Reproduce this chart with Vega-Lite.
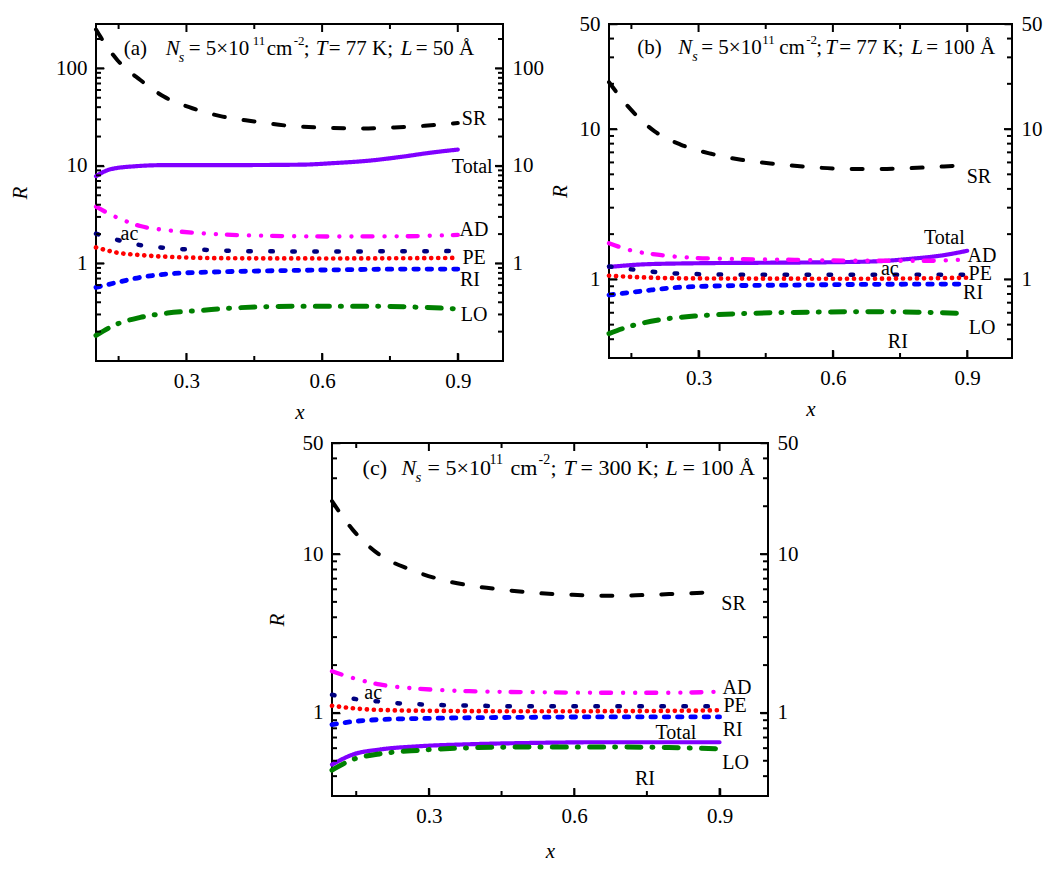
{
"$schema": "https://vega.github.io/schema/vega-lite/v6.json",
"padding": {"left": 8, "top": 12, "right": 5, "bottom": 5},
"config": {
  "font": "Liberation Serif",
  "view": {"stroke": "black", "strokeWidth": 2, "fill": "transparent"},
  "axis": {"labelFont": "Liberation Serif", "labelFontSize": 21, "labelColor": "black", "titleFont": "Liberation Serif", "titleFontSize": 21, "titleFontStyle": "italic", "titleFontWeight": "normal", "titleColor": "black", "domain": false, "grid": false, "ticks": true, "tickColor": "#000000", "tickWidth": 1.5, "tickSize": 8, "offset": -8, "labelPadding": 9},
  "text": {"font": "Liberation Serif", "fontSize": 21, "color": "black", "align": "left", "baseline": "alphabetic"},
  "line": {"strokeCap": "round", "interpolate": "monotone", "clip": true},
  "rule": {"color": "black", "strokeWidth": 2, "opacity": 1}
},
"datasets": {
  "a": [
    {"s":"SR","x":0.1,"R":250},{"s":"SR","x":0.11,"R":210},{"s":"SR","x":0.147,"R":122},{"s":"SR","x":0.198,"R":76},{"s":"SR","x":0.25,"R":51.4},{"s":"SR","x":0.313,"R":39},{"s":"SR","x":0.38,"R":32},{"s":"SR","x":0.45,"R":28.6},{"s":"SR","x":0.525,"R":25.8},{"s":"SR","x":0.59,"R":24.8},{"s":"SR","x":0.687,"R":24.2},{"s":"SR","x":0.76,"R":24.8},{"s":"SR","x":0.827,"R":25.8},{"s":"SR","x":0.9,"R":27.5},
    {"s":"Total","x":0.1,"R":7.85},{"s":"Total","x":0.13,"R":9.18},{"s":"Total","x":0.184,"R":9.9},{"s":"Total","x":0.258,"R":10.2},{"s":"Total","x":0.406,"R":10.2},{"s":"Total","x":0.554,"R":10.3},{"s":"Total","x":0.628,"R":10.7},{"s":"Total","x":0.702,"R":11.3},{"s":"Total","x":0.776,"R":12.4},{"s":"Total","x":0.842,"R":13.7},{"s":"Total","x":0.9,"R":14.7},
    {"s":"AD","x":0.1,"R":3.82},{"s":"AD","x":0.147,"R":2.95},{"s":"AD","x":0.198,"R":2.42},{"s":"AD","x":0.258,"R":2.19},{"s":"AD","x":0.332,"R":2.04},{"s":"AD","x":0.48,"R":1.92},{"s":"AD","x":0.628,"R":1.89},{"s":"AD","x":0.776,"R":1.9},{"s":"AD","x":0.9,"R":1.96},
    {"s":"ac","x":0.1,"R":2.02},{"s":"ac","x":0.148,"R":1.74},{"s":"ac","x":0.195,"R":1.55},{"s":"ac","x":0.243,"R":1.46},{"s":"ac","x":0.291,"R":1.4},{"s":"ac","x":0.339,"R":1.38},{"s":"ac","x":0.387,"R":1.35},{"s":"ac","x":0.5,"R":1.33},{"s":"ac","x":0.7,"R":1.33},{"s":"ac","x":0.9,"R":1.34},
    {"s":"PE","x":0.1,"R":1.46},{"s":"PE","x":0.147,"R":1.29},{"s":"PE","x":0.198,"R":1.22},{"s":"PE","x":0.258,"R":1.17},{"s":"PE","x":0.406,"R":1.13},{"s":"PE","x":0.628,"R":1.125},{"s":"PE","x":0.9,"R":1.14},
    {"s":"RI","x":0.1,"R":0.569},{"s":"RI","x":0.147,"R":0.64},{"s":"RI","x":0.198,"R":0.72},{"s":"RI","x":0.258,"R":0.78},{"s":"RI","x":0.369,"R":0.82},{"s":"RI","x":0.48,"R":0.84},{"s":"RI","x":0.628,"R":0.86},{"s":"RI","x":0.776,"R":0.875},{"s":"RI","x":0.9,"R":0.875},
    {"s":"LO","x":0.1,"R":0.183},{"s":"LO","x":0.147,"R":0.24},{"s":"LO","x":0.198,"R":0.28},{"s":"LO","x":0.258,"R":0.31},{"s":"LO","x":0.332,"R":0.33},{"s":"LO","x":0.406,"R":0.35},{"s":"LO","x":0.554,"R":0.364},{"s":"LO","x":0.702,"R":0.364},{"s":"LO","x":0.813,"R":0.356},{"s":"LO","x":0.9,"R":0.342}
  ],
  "b": [
    {"s":"SR","x":0.1,"R":20.5},{"s":"SR","x":0.142,"R":14.2},{"s":"SR","x":0.202,"R":9.65},{"s":"SR","x":0.261,"R":7.86},{"s":"SR","x":0.328,"R":6.85},{"s":"SR","x":0.395,"R":6.25},{"s":"SR","x":0.469,"R":5.87},{"s":"SR","x":0.551,"R":5.58},{"s":"SR","x":0.625,"R":5.44},{"s":"SR","x":0.699,"R":5.42},{"s":"SR","x":0.773,"R":5.5},{"s":"SR","x":0.848,"R":5.64},{"s":"SR","x":0.9,"R":5.78},
    {"s":"Total","x":0.1,"R":1.21},{"s":"Total","x":0.179,"R":1.26},{"s":"Total","x":0.29,"R":1.28},{"s":"Total","x":0.439,"R":1.29},{"s":"Total","x":0.588,"R":1.3},{"s":"Total","x":0.7,"R":1.32},{"s":"Total","x":0.773,"R":1.37},{"s":"Total","x":0.848,"R":1.45},{"s":"Total","x":0.9,"R":1.55},
    {"s":"AD","x":0.1,"R":1.74},{"s":"AD","x":0.142,"R":1.58},{"s":"AD","x":0.217,"R":1.45},{"s":"AD","x":0.291,"R":1.39},{"s":"AD","x":0.365,"R":1.37},{"s":"AD","x":0.514,"R":1.35},{"s":"AD","x":0.662,"R":1.33},{"s":"AD","x":0.81,"R":1.33},{"s":"AD","x":0.9,"R":1.36},
    {"s":"ac","x":0.1,"R":1.22},{"s":"ac","x":0.15,"R":1.166},{"s":"ac","x":0.198,"R":1.125},{"s":"ac","x":0.246,"R":1.096},{"s":"ac","x":0.295,"R":1.085},{"s":"ac","x":0.4,"R":1.074},{"s":"ac","x":0.9,"R":1.074},
    {"s":"PE","x":0.1,"R":1.058},{"s":"PE","x":0.179,"R":1.03},{"s":"PE","x":0.29,"R":1.015},{"s":"PE","x":0.662,"R":1.01},{"s":"PE","x":0.9,"R":1.026},
    {"s":"RI","x":0.1,"R":0.787},{"s":"RI","x":0.179,"R":0.84},{"s":"RI","x":0.254,"R":0.885},{"s":"RI","x":0.365,"R":0.907},{"s":"RI","x":0.514,"R":0.917},{"s":"RI","x":0.662,"R":0.926},{"s":"RI","x":0.9,"R":0.931},
    {"s":"LO","x":0.1,"R":0.436},{"s":"LO","x":0.142,"R":0.483},{"s":"LO","x":0.217,"R":0.541},{"s":"LO","x":0.291,"R":0.57},{"s":"LO","x":0.402,"R":0.593},{"s":"LO","x":0.55,"R":0.605},{"s":"LO","x":0.7,"R":0.61},{"s":"LO","x":0.81,"R":0.603},{"s":"LO","x":0.9,"R":0.593}
  ],
  "c": [
    {"s":"SR","x":0.1,"R":21.5},{"s":"SR","x":0.143,"R":14.2},{"s":"SR","x":0.198,"R":9.9},{"s":"SR","x":0.259,"R":8.05},{"s":"SR","x":0.321,"R":6.96},{"s":"SR","x":0.383,"R":6.35},{"s":"SR","x":0.452,"R":5.97},{"s":"SR","x":0.52,"R":5.69},{"s":"SR","x":0.589,"R":5.55},{"s":"SR","x":0.658,"R":5.47},{"s":"SR","x":0.727,"R":5.5},{"s":"SR","x":0.796,"R":5.6},{"s":"SR","x":0.864,"R":5.71},{"s":"SR","x":0.9,"R":5.82},
    {"s":"Total","x":0.1,"R":0.473},{"s":"Total","x":0.143,"R":0.547},{"s":"Total","x":0.198,"R":0.588},{"s":"Total","x":0.28,"R":0.617},{"s":"Total","x":0.383,"R":0.635},{"s":"Total","x":0.52,"R":0.648},{"s":"Total","x":0.658,"R":0.654},{"s":"Total","x":0.9,"R":0.654},
    {"s":"AD","x":0.1,"R":1.83},{"s":"AD","x":0.143,"R":1.66},{"s":"AD","x":0.198,"R":1.51},{"s":"AD","x":0.28,"R":1.42},{"s":"AD","x":0.383,"R":1.37},{"s":"AD","x":0.52,"R":1.35},{"s":"AD","x":0.658,"R":1.34},{"s":"AD","x":0.796,"R":1.34},{"s":"AD","x":0.9,"R":1.36},
    {"s":"ac","x":0.1,"R":1.3},{"s":"ac","x":0.151,"R":1.22},{"s":"ac","x":0.198,"R":1.18},{"s":"ac","x":0.246,"R":1.145},{"s":"ac","x":0.292,"R":1.13},{"s":"ac","x":0.342,"R":1.117},{"s":"ac","x":0.4,"R":1.11},{"s":"ac","x":0.5,"R":1.1},{"s":"ac","x":0.9,"R":1.1},
    {"s":"PE","x":0.1,"R":1.11},{"s":"PE","x":0.143,"R":1.07},{"s":"PE","x":0.198,"R":1.044},{"s":"PE","x":0.315,"R":1.03},{"s":"PE","x":0.52,"R":1.024},{"s":"PE","x":0.796,"R":1.03},{"s":"PE","x":0.9,"R":1.04},
    {"s":"RI","x":0.1,"R":0.845},{"s":"RI","x":0.143,"R":0.882},{"s":"RI","x":0.198,"R":0.908},{"s":"RI","x":0.315,"R":0.926},{"s":"RI","x":0.52,"R":0.939},{"s":"RI","x":0.658,"R":0.944},{"s":"RI","x":0.9,"R":0.944},
    {"s":"LO","x":0.1,"R":0.436},{"s":"LO","x":0.143,"R":0.509},{"s":"LO","x":0.198,"R":0.552},{"s":"LO","x":0.28,"R":0.582},{"s":"LO","x":0.383,"R":0.603},{"s":"LO","x":0.52,"R":0.611},{"s":"LO","x":0.658,"R":0.611},{"s":"LO","x":0.796,"R":0.605},{"s":"LO","x":0.9,"R":0.594}
  ],
  "labA": [
    {"label":"SR","x":0.936,"R":30.4},{"label":"Total","x":0.932,"R":9.84},{"label":"AD","x":0.936,"R":2.19},{"label":"ac","x":0.174,"R":1.99},{"label":"PE","x":0.936,"R":1.13},{"label":"RI","x":0.927,"R":0.676},{"label":"LO","x":0.936,"R":0.297}
  ],
  "labB": [
    {"label":"SR","x":0.926,"R":4.83},{"label":"Total","x":0.849,"R":1.88},{"label":"AD","x":0.933,"R":1.43},{"label":"ac","x":0.727,"R":1.18},{"label":"PE","x":0.929,"R":1.085},{"label":"RI","x":0.913,"R":0.81},{"label":"LO","x":0.933,"R":0.476},{"label":"RI","x":0.745,"R":0.384}
  ],
  "labC": [
    {"label":"SR","x":0.929,"R":4.85},{"label":"AD","x":0.936,"R":1.44},{"label":"ac","x":0.185,"R":1.34},{"label":"PE","x":0.932,"R":1.1},{"label":"Total","x":0.81,"R":0.748},{"label":"RI","x":0.927,"R":0.778},{"label":"LO","x":0.933,"R":0.485},{"label":"RI","x":0.746,"R":0.385}
  ],
  "titA": [{"x":0.1613,"R":137}],
  "titB": [{"x":0.163,"R":31.8}],
  "titC": [{"x":0.1631,"R":31.5}],
  "xt": [{"v":0.3,"k":"M"},{"v":0.6,"k":"M"},{"v":0.9,"k":"M"},{"v":0.15,"k":"m"},{"v":0.45,"k":"m"},{"v":0.75,"k":"m"}],
  "ytA": [{"v":1,"k":"M"},{"v":10,"k":"M"},{"v":100,"k":"M"},
    {"v":0.2,"k":"m"},{"v":0.3,"k":"m"},{"v":0.4,"k":"m"},{"v":0.5,"k":"m"},{"v":0.6,"k":"m"},{"v":0.7,"k":"m"},{"v":0.8,"k":"m"},{"v":0.9,"k":"m"},
    {"v":2,"k":"m"},{"v":3,"k":"m"},{"v":4,"k":"m"},{"v":5,"k":"m"},{"v":6,"k":"m"},{"v":7,"k":"m"},{"v":8,"k":"m"},{"v":9,"k":"m"},
    {"v":20,"k":"m"},{"v":30,"k":"m"},{"v":40,"k":"m"},{"v":50,"k":"m"},{"v":60,"k":"m"},{"v":70,"k":"m"},{"v":80,"k":"m"},{"v":90,"k":"m"},{"v":200,"k":"m"}],
  "ytB": [{"v":1,"k":"M"},{"v":10,"k":"M"},
    {"v":0.4,"k":"m"},{"v":0.5,"k":"m"},{"v":0.6,"k":"m"},{"v":0.7,"k":"m"},{"v":0.8,"k":"m"},{"v":0.9,"k":"m"},
    {"v":2,"k":"m"},{"v":3,"k":"m"},{"v":4,"k":"m"},{"v":5,"k":"m"},{"v":6,"k":"m"},{"v":7,"k":"m"},{"v":8,"k":"m"},{"v":9,"k":"m"},
    {"v":20,"k":"m"},{"v":30,"k":"m"},{"v":40,"k":"m"}]
},
"center": true,
"spacing": 8,
"vconcat": [
 {"hconcat": [
  {"width": 407, "height": 337,
   "resolve": {"axis": {"x": "independent", "y": "independent"}},
   "layer": [
    {"data": {"name": "a"}, "transform": [{"filter": "datum.s != 'ac' && datum.s != 'PE'"}],
     "mark": {"type": "line"},
     "encoding": {
      "x": {"field": "x", "type": "quantitative", "scale": {"domain": [0.1, 1.0], "nice": false, "zero": false}, "axis": {"orient": "bottom", "values": [0.3, 0.6, 0.9], "format": ".1f", "title": "x", "titlePadding": 10}},
      "y": {"field": "R", "type": "quantitative", "scale": {"type": "log", "domain": [0.1, 285], "nice": false}, "axis": {"orient": "left", "values": [1, 10, 100], "format": "d", "title": "R", "titlePadding": 25}},
      "color": {"field": "s", "type": "nominal", "scale": {"domain": ["SR","Total","AD","ac","PE","RI","LO"], "range": ["#000000","#8000ff","#ff00ff","#000080","#ff0000","#0000ff","#008000"]}, "legend": null},
      "strokeDash": {"field": "s", "type": "nominal", "scale": {"domain": ["SR","Total","AD","ac","PE","RI","LO"], "range": [[11,19],[1,0],[10,12,0.1,12,0.1,11],[2.5,19.5],[0.1,6.9],[4.5,8.8],[14,11,1,11.3]]}, "legend": null},
      "strokeWidth": {"field": "s", "type": "ordinal", "scale": {"domain": ["SR","Total","AD","ac","PE","RI","LO"], "range": [4,5,4,3.5,3.5,3.5,4]}, "legend": null}
     }},
    {"data": {"name": "a"}, "transform": [{"filter": "datum.s == 'ac' || datum.s == 'PE'"}],
     "mark": {"type": "line"},
     "encoding": {
      "x": {"field": "x", "type": "quantitative", "axis": null},
      "y": {"field": "R", "type": "quantitative", "axis": {"orient": "right", "values": [1, 10, 100], "format": "d", "title": null}},
      "color": {"field": "s", "type": "nominal", "legend": null},
      "strokeDash": {"field": "s", "type": "nominal", "legend": null},
      "strokeWidth": {"field": "s", "type": "ordinal", "legend": null}
     }},
    {"data": {"name": "labA"}, "mark": {"type": "text", "align": "center", "baseline": "middle", "fontSize": 20},
     "encoding": {
      "x": {"field": "x", "type": "quantitative", "axis": null},
      "y": {"field": "R", "type": "quantitative", "axis": null},
      "text": {"field": "label"}
     }},
    {"data": {"name": "ytA"},
     "layer": [
      {"transform": [{"filter": "datum.k == 'M'"}], "mark": {"type": "rule", "x2Offset": 8}, "encoding": {"x": {"datum": 0.1, "type": "quantitative", "axis": null}, "x2": {"datum": 0.1}, "y": {"field": "v", "type": "quantitative", "axis": null}}},
      {"transform": [{"filter": "datum.k == 'm'"}], "mark": {"type": "rule", "x2Offset": 5}, "encoding": {"x": {"datum": 0.1, "type": "quantitative", "axis": null}, "x2": {"datum": 0.1}, "y": {"field": "v", "type": "quantitative", "axis": null}}},
      {"transform": [{"filter": "datum.k == 'M'"}], "mark": {"type": "rule", "x2Offset": -8}, "encoding": {"x": {"datum": 1.0, "type": "quantitative", "axis": null}, "x2": {"datum": 1.0}, "y": {"field": "v", "type": "quantitative", "axis": null}}},
      {"transform": [{"filter": "datum.k == 'm'"}], "mark": {"type": "rule", "x2Offset": -5}, "encoding": {"x": {"datum": 1.0, "type": "quantitative", "axis": null}, "x2": {"datum": 1.0}, "y": {"field": "v", "type": "quantitative", "axis": null}}}
     ]},
    {"data": {"name": "xt"},
     "layer": [
      {"transform": [{"filter": "datum.k == 'M'"}], "mark": {"type": "rule", "y2Offset": -8}, "encoding": {"x": {"field": "v", "type": "quantitative", "axis": null}, "y": {"datum": 0.1, "type": "quantitative", "axis": null}, "y2": {"datum": 0.1}}},
      {"transform": [{"filter": "datum.k == 'm'"}], "mark": {"type": "rule", "y2Offset": -5}, "encoding": {"x": {"field": "v", "type": "quantitative", "axis": null}, "y": {"datum": 0.1, "type": "quantitative", "axis": null}, "y2": {"datum": 0.1}}},
      {"transform": [{"filter": "datum.k == 'M'"}], "mark": {"type": "rule", "y2Offset": 8}, "encoding": {"x": {"field": "v", "type": "quantitative", "axis": null}, "y": {"datum": 285, "type": "quantitative", "axis": null}, "y2": {"datum": 285}}},
      {"transform": [{"filter": "datum.k == 'm'"}], "mark": {"type": "rule", "y2Offset": 5}, "encoding": {"x": {"field": "v", "type": "quantitative", "axis": null}, "y": {"datum": 285, "type": "quantitative", "axis": null}, "y2": {"datum": 285}}}
     ]},
    {"data": {"name": "titA"},
     "encoding": {
      "x": {"field": "x", "type": "quantitative", "axis": null},
      "y": {"field": "R", "type": "quantitative", "axis": null}
     },
     "layer": [
      {"mark": {"type": "text", "text": "(a)"}},
      {"mark": {"type": "text", "text": "N", "fontStyle": "italic", "dx": 42}},
      {"mark": {"type": "text", "text": "s", "fontStyle": "italic", "fontSize": 14, "dx": 55, "dy": 7}},
      {"mark": {"type": "text", "text": "= 5×10", "dx": 65}},
      {"mark": {"type": "text", "text": "11", "fontSize": 13, "dx": 129, "dy": -10}},
      {"mark": {"type": "text", "text": "cm", "dx": 143}},
      {"mark": {"type": "text", "text": "-2", "fontSize": 13, "dx": 170, "dy": -10}},
      {"mark": {"type": "text", "text": ";", "dx": 180}},
      {"mark": {"type": "text", "text": "T", "fontStyle": "italic", "dx": 192}},
      {"mark": {"type": "text", "text": "= 77 K;", "dx": 205}},
      {"mark": {"type": "text", "text": "L", "fontStyle": "italic", "dx": 277}},
      {"mark": {"type": "text", "text": "= 50 Å", "dx": 292}}
     ]}
   ]},
  {"width": 403, "height": 334,
   "resolve": {"axis": {"x": "independent", "y": "independent"}},
   "layer": [
    {"data": {"name": "b"}, "transform": [{"filter": "datum.s != 'ac' && datum.s != 'PE'"}],
     "mark": {"type": "line"},
     "encoding": {
      "x": {"field": "x", "type": "quantitative", "scale": {"domain": [0.1, 1.0], "nice": false, "zero": false}, "axis": {"orient": "bottom", "values": [0.3, 0.6, 0.9], "format": ".1f", "title": "x", "titlePadding": 10}},
      "y": {"field": "R", "type": "quantitative", "scale": {"type": "log", "domain": [0.3, 50], "nice": false}, "axis": {"orient": "left", "values": [1, 10, 50], "format": "d", "title": "R", "titlePadding": 9}},
      "color": {"field": "s", "type": "nominal", "scale": {"domain": ["SR","Total","AD","ac","PE","RI","LO"], "range": ["#000000","#8000ff","#ff00ff","#000080","#ff0000","#0000ff","#008000"]}, "legend": null},
      "strokeDash": {"field": "s", "type": "nominal", "scale": {"domain": ["SR","Total","AD","ac","PE","RI","LO"], "range": [[11,19],[1,0],[10,12,0.1,12,0.1,11],[2.5,19.5],[0.1,6.9],[4.5,8.8],[14,11,1,11.3]]}, "legend": null},
      "strokeWidth": {"field": "s", "type": "ordinal", "scale": {"domain": ["SR","Total","AD","ac","PE","RI","LO"], "range": [4,5,4,3.5,3.5,3.5,4]}, "legend": null}
     }},
    {"data": {"name": "b"}, "transform": [{"filter": "datum.s == 'ac' || datum.s == 'PE'"}],
     "mark": {"type": "line"},
     "encoding": {
      "x": {"field": "x", "type": "quantitative", "axis": null},
      "y": {"field": "R", "type": "quantitative", "axis": {"orient": "right", "values": [1, 10, 50], "format": "d", "title": null}},
      "color": {"field": "s", "type": "nominal", "legend": null},
      "strokeDash": {"field": "s", "type": "nominal", "legend": null},
      "strokeWidth": {"field": "s", "type": "ordinal", "legend": null}
     }},
    {"data": {"name": "labB"}, "mark": {"type": "text", "align": "center", "baseline": "middle", "fontSize": 20},
     "encoding": {
      "x": {"field": "x", "type": "quantitative", "axis": null},
      "y": {"field": "R", "type": "quantitative", "axis": null},
      "text": {"field": "label"}
     }},
    {"data": {"name": "ytB"},
     "layer": [
      {"transform": [{"filter": "datum.k == 'M'"}], "mark": {"type": "rule", "x2Offset": 8}, "encoding": {"x": {"datum": 0.1, "type": "quantitative", "axis": null}, "x2": {"datum": 0.1}, "y": {"field": "v", "type": "quantitative", "axis": null}}},
      {"transform": [{"filter": "datum.k == 'm'"}], "mark": {"type": "rule", "x2Offset": 5}, "encoding": {"x": {"datum": 0.1, "type": "quantitative", "axis": null}, "x2": {"datum": 0.1}, "y": {"field": "v", "type": "quantitative", "axis": null}}},
      {"transform": [{"filter": "datum.k == 'M'"}], "mark": {"type": "rule", "x2Offset": -8}, "encoding": {"x": {"datum": 1.0, "type": "quantitative", "axis": null}, "x2": {"datum": 1.0}, "y": {"field": "v", "type": "quantitative", "axis": null}}},
      {"transform": [{"filter": "datum.k == 'm'"}], "mark": {"type": "rule", "x2Offset": -5}, "encoding": {"x": {"datum": 1.0, "type": "quantitative", "axis": null}, "x2": {"datum": 1.0}, "y": {"field": "v", "type": "quantitative", "axis": null}}}
     ]},
    {"data": {"name": "xt"},
     "layer": [
      {"transform": [{"filter": "datum.k == 'M'"}], "mark": {"type": "rule", "y2Offset": -8}, "encoding": {"x": {"field": "v", "type": "quantitative", "axis": null}, "y": {"datum": 0.3, "type": "quantitative", "axis": null}, "y2": {"datum": 0.3}}},
      {"transform": [{"filter": "datum.k == 'm'"}], "mark": {"type": "rule", "y2Offset": -5}, "encoding": {"x": {"field": "v", "type": "quantitative", "axis": null}, "y": {"datum": 0.3, "type": "quantitative", "axis": null}, "y2": {"datum": 0.3}}},
      {"transform": [{"filter": "datum.k == 'M'"}], "mark": {"type": "rule", "y2Offset": 8}, "encoding": {"x": {"field": "v", "type": "quantitative", "axis": null}, "y": {"datum": 50, "type": "quantitative", "axis": null}, "y2": {"datum": 50}}},
      {"transform": [{"filter": "datum.k == 'm'"}], "mark": {"type": "rule", "y2Offset": 5}, "encoding": {"x": {"field": "v", "type": "quantitative", "axis": null}, "y": {"datum": 50, "type": "quantitative", "axis": null}, "y2": {"datum": 50}}}
     ]},
    {"data": {"name": "titB"},
     "encoding": {
      "x": {"field": "x", "type": "quantitative", "axis": null},
      "y": {"field": "R", "type": "quantitative", "axis": null}
     },
     "layer": [
      {"mark": {"type": "text", "text": "(b)"}},
      {"mark": {"type": "text", "text": "N", "fontStyle": "italic", "dx": 41}},
      {"mark": {"type": "text", "text": "s", "fontStyle": "italic", "fontSize": 14, "dx": 55, "dy": 7}},
      {"mark": {"type": "text", "text": "= 5×10", "dx": 64}},
      {"mark": {"type": "text", "text": "11", "fontSize": 13, "dx": 125, "dy": -10}},
      {"mark": {"type": "text", "text": "cm", "dx": 142}},
      {"mark": {"type": "text", "text": "-2", "fontSize": 13, "dx": 169, "dy": -10}},
      {"mark": {"type": "text", "text": ";", "dx": 179}},
      {"mark": {"type": "text", "text": "T", "fontStyle": "italic", "dx": 188}},
      {"mark": {"type": "text", "text": "= 77 K;", "dx": 202}},
      {"mark": {"type": "text", "text": "L", "fontStyle": "italic", "dx": 274}},
      {"mark": {"type": "text", "text": "= 100 Å", "dx": 289}}
     ]}
   ]}
 ], "spacing": 3},
 {"width": 436, "height": 353,
   "resolve": {"axis": {"x": "independent", "y": "independent"}},
   "layer": [
    {"data": {"name": "c"}, "transform": [{"filter": "datum.s != 'ac' && datum.s != 'PE'"}],
     "mark": {"type": "line"},
     "encoding": {
      "x": {"field": "x", "type": "quantitative", "scale": {"domain": [0.1, 1.0], "nice": false, "zero": false}, "axis": {"orient": "bottom", "values": [0.3, 0.6, 0.9], "format": ".1f", "title": "x", "titlePadding": 14}},
      "y": {"field": "R", "type": "quantitative", "scale": {"type": "log", "domain": [0.3, 50], "nice": false}, "axis": {"orient": "left", "values": [1, 10, 50], "format": "d", "title": "R", "titlePadding": 15}},
      "color": {"field": "s", "type": "nominal", "scale": {"domain": ["SR","Total","AD","ac","PE","RI","LO"], "range": ["#000000","#8000ff","#ff00ff","#000080","#ff0000","#0000ff","#008000"]}, "legend": null},
      "strokeDash": {"field": "s", "type": "nominal", "scale": {"domain": ["SR","Total","AD","ac","PE","RI","LO"], "range": [[11,19],[1,0],[10,12,0.1,12,0.1,11],[2.5,19.5],[0.1,6.9],[4.5,8.8],[14,11,1,11.3]]}, "legend": null},
      "strokeWidth": {"field": "s", "type": "ordinal", "scale": {"domain": ["SR","Total","AD","ac","PE","RI","LO"], "range": [4,5,4,3.5,3.5,3.5,4]}, "legend": null}
     }},
    {"data": {"name": "c"}, "transform": [{"filter": "datum.s == 'ac' || datum.s == 'PE'"}],
     "mark": {"type": "line"},
     "encoding": {
      "x": {"field": "x", "type": "quantitative", "axis": null},
      "y": {"field": "R", "type": "quantitative", "axis": {"orient": "right", "values": [1, 10, 50], "format": "d", "title": null, "minExtent": 46}},
      "color": {"field": "s", "type": "nominal", "legend": null},
      "strokeDash": {"field": "s", "type": "nominal", "legend": null},
      "strokeWidth": {"field": "s", "type": "ordinal", "legend": null}
     }},
    {"data": {"name": "labC"}, "mark": {"type": "text", "align": "center", "baseline": "middle", "fontSize": 20},
     "encoding": {
      "x": {"field": "x", "type": "quantitative", "axis": null},
      "y": {"field": "R", "type": "quantitative", "axis": null},
      "text": {"field": "label"}
     }},
    {"data": {"name": "ytB"},
     "layer": [
      {"transform": [{"filter": "datum.k == 'M'"}], "mark": {"type": "rule", "x2Offset": 8}, "encoding": {"x": {"datum": 0.1, "type": "quantitative", "axis": null}, "x2": {"datum": 0.1}, "y": {"field": "v", "type": "quantitative", "axis": null}}},
      {"transform": [{"filter": "datum.k == 'm'"}], "mark": {"type": "rule", "x2Offset": 5}, "encoding": {"x": {"datum": 0.1, "type": "quantitative", "axis": null}, "x2": {"datum": 0.1}, "y": {"field": "v", "type": "quantitative", "axis": null}}},
      {"transform": [{"filter": "datum.k == 'M'"}], "mark": {"type": "rule", "x2Offset": -8}, "encoding": {"x": {"datum": 1.0, "type": "quantitative", "axis": null}, "x2": {"datum": 1.0}, "y": {"field": "v", "type": "quantitative", "axis": null}}},
      {"transform": [{"filter": "datum.k == 'm'"}], "mark": {"type": "rule", "x2Offset": -5}, "encoding": {"x": {"datum": 1.0, "type": "quantitative", "axis": null}, "x2": {"datum": 1.0}, "y": {"field": "v", "type": "quantitative", "axis": null}}}
     ]},
    {"data": {"name": "xt"},
     "layer": [
      {"transform": [{"filter": "datum.k == 'M'"}], "mark": {"type": "rule", "y2Offset": -8}, "encoding": {"x": {"field": "v", "type": "quantitative", "axis": null}, "y": {"datum": 0.3, "type": "quantitative", "axis": null}, "y2": {"datum": 0.3}}},
      {"transform": [{"filter": "datum.k == 'm'"}], "mark": {"type": "rule", "y2Offset": -5}, "encoding": {"x": {"field": "v", "type": "quantitative", "axis": null}, "y": {"datum": 0.3, "type": "quantitative", "axis": null}, "y2": {"datum": 0.3}}},
      {"transform": [{"filter": "datum.k == 'M'"}], "mark": {"type": "rule", "y2Offset": 8}, "encoding": {"x": {"field": "v", "type": "quantitative", "axis": null}, "y": {"datum": 50, "type": "quantitative", "axis": null}, "y2": {"datum": 50}}},
      {"transform": [{"filter": "datum.k == 'm'"}], "mark": {"type": "rule", "y2Offset": 5}, "encoding": {"x": {"field": "v", "type": "quantitative", "axis": null}, "y": {"datum": 50, "type": "quantitative", "axis": null}, "y2": {"datum": 50}}}
     ]},
    {"data": {"name": "titC"},
     "encoding": {
      "x": {"field": "x", "type": "quantitative", "axis": null},
      "y": {"field": "R", "type": "quantitative", "axis": null}
     },
     "layer": [
      {"mark": {"type": "text", "text": "(c)", "fontSize": 22}},
      {"mark": {"type": "text", "text": "N", "fontStyle": "italic", "fontSize": 22, "dx": 39}},
      {"mark": {"type": "text", "text": "s", "fontStyle": "italic", "fontSize": 15, "dx": 53, "dy": 7}},
      {"mark": {"type": "text", "text": "= 5×10", "fontSize": 22, "dx": 65}},
      {"mark": {"type": "text", "text": "11", "fontSize": 14, "dx": 127, "dy": -11}},
      {"mark": {"type": "text", "text": "cm", "fontSize": 22, "dx": 148}},
      {"mark": {"type": "text", "text": "-2", "fontSize": 14, "dx": 176, "dy": -11}},
      {"mark": {"type": "text", "text": ";", "fontSize": 22, "dx": 188}},
      {"mark": {"type": "text", "text": "T", "fontStyle": "italic", "fontSize": 22, "dx": 201}},
      {"mark": {"type": "text", "text": "= 300 K;", "fontSize": 22, "dx": 218}},
      {"mark": {"type": "text", "text": "L", "fontStyle": "italic", "fontSize": 22, "dx": 303}},
      {"mark": {"type": "text", "text": "= 100 Å", "fontSize": 22, "dx": 320}}
     ]}
   ]}
]
}
